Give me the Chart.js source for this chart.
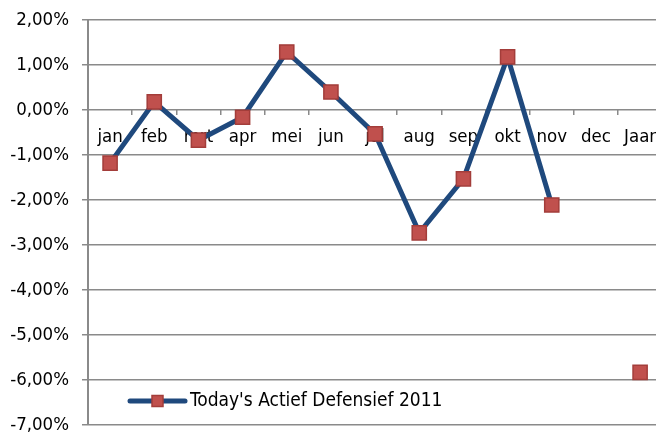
<!DOCTYPE html>
<html>
<head>
<meta charset="utf-8">
<script src="https://cdn.jsdelivr.net/npm/chart.js@4"></script>
<style>
  html, body { margin: 0; padding: 0; background: #fff; overflow: hidden; }
  canvas { display: block; }
</style>
</head>
<body>
<canvas id="chart" width="656" height="432"></canvas>
<script>
const months = ['jan', 'feb', 'mrt', 'apr', 'mei', 'jun', 'jul', 'aug', 'sep', 'okt', 'nov', 'dec', 'Jaar'];
const returns = [-1.18, 0.18, -0.67, -0.16, 1.29, 0.40, -0.53, -2.73, -1.53, 1.18, -2.11, null, -5.83];
const seriesName = "Today's Actief Defensief 2011";
const yMin = -7, yMax = 2, yStep = 1;
// the original picture is cropped on the right, part of the last slot is cut off
const xMin = -0.5, xMax = 12.36;

const FONT = 'DejaVu Sans Condensed';
const GRID = '#8a8a8a';

// legend drawn inside the plot, bottom-left like the original
const insideLegend = {
  id: 'insideLegend',
  afterDraw(chart) {
    const ds = chart.data.datasets[0];
    const c = chart.ctx;
    const x0 = 130, x1 = 185, y = 401;
    c.save();
    c.strokeStyle = ds.borderColor;
    c.lineWidth = ds.borderWidth;
    c.lineCap = 'round';
    c.beginPath();
    c.moveTo(x0, y);
    c.lineTo(x1, y);
    c.stroke();
    const s = 11;
    c.fillStyle = ds.pointBackgroundColor;
    c.strokeStyle = ds.pointBorderColor;
    c.lineWidth = 1.5;
    c.fillRect((x0 + x1) / 2 - s / 2, y - s / 2, s, s);
    c.strokeRect((x0 + x1) / 2 - s / 2, y - s / 2, s, s);
    c.fillStyle = '#000';
    c.font = '19px "' + FONT + '"';
    c.textBaseline = 'middle';
    c.fillText(ds.label, 190, y);
    c.restore();
  }
};

const noPad = s => { s.paddingLeft = 0; s.paddingRight = 0; };

new Chart(document.getElementById('chart'), {
  type: 'line',
  data: {
    datasets: [{
      label: seriesName,
      data: returns.map((v, i) => ({ x: i, y: v })),
      xAxisID: 'x',
      borderColor: '#1F497D',
      borderWidth: 5,
      pointStyle: 'rect',
      pointRadius: 10,
      pointBackgroundColor: '#C0504D',
      pointBorderColor: '#A33D3A',
      pointBorderWidth: 1.5,
      tension: 0,
      spanGaps: false
    }]
  },
  options: {
    responsive: false,
    animation: false,
    layout: { autoPadding: false, padding: { top: 20, bottom: 7, left: 0, right: 0 } },
    plugins: { legend: { display: false }, tooltip: { enabled: false } },
    scales: {
      x: {
        type: 'linear',
        position: { y: 0 },
        min: xMin,
        max: xMax,
        afterBuildTicks(s) { s.ticks = months.map((m, i) => ({ value: i })); },
        afterFit: noPad,
        grid: { drawOnChartArea: false, drawTicks: true, tickLength: 5, color: 'rgba(0,0,0,0)' },
        border: { display: false },
        ticks: {
          autoSkip: false, maxRotation: 0, padding: 11, color: '#000',
          font: { family: FONT, size: 18.5 },
          callback: v => months[v]
        }
      },
      xTicks: {
        type: 'linear',
        axis: 'x',
        position: { y: 0 },
        min: xMin,
        max: xMax,
        afterBuildTicks(s) { s.ticks = months.map((m, i) => ({ value: i - 0.5 })).concat([{ value: months.length - 0.5 }]); },
        afterFit: noPad,
        grid: { drawOnChartArea: false, drawTicks: true, tickLength: 5, color: GRID, lineWidth: 1.5 },
        border: { display: false },
        ticks: { display: false }
      },
      y: {
        min: yMin,
        max: yMax,
        afterFit(s) { s.width = 88; s.paddingTop = 0; s.paddingBottom = 0; },
        grid: { color: GRID, lineWidth: 1.5, tickLength: 6 },
        border: { color: GRID, width: 2 },
        ticks: {
          stepSize: yStep,
          padding: 13,
          color: '#000',
          font: { family: FONT, size: 18.5 },
          callback: v => v.toFixed(2).replace('.', ',') + '%'
        }
      }
    }
  },
  plugins: [insideLegend]
});
</script>
</body>
</html>
